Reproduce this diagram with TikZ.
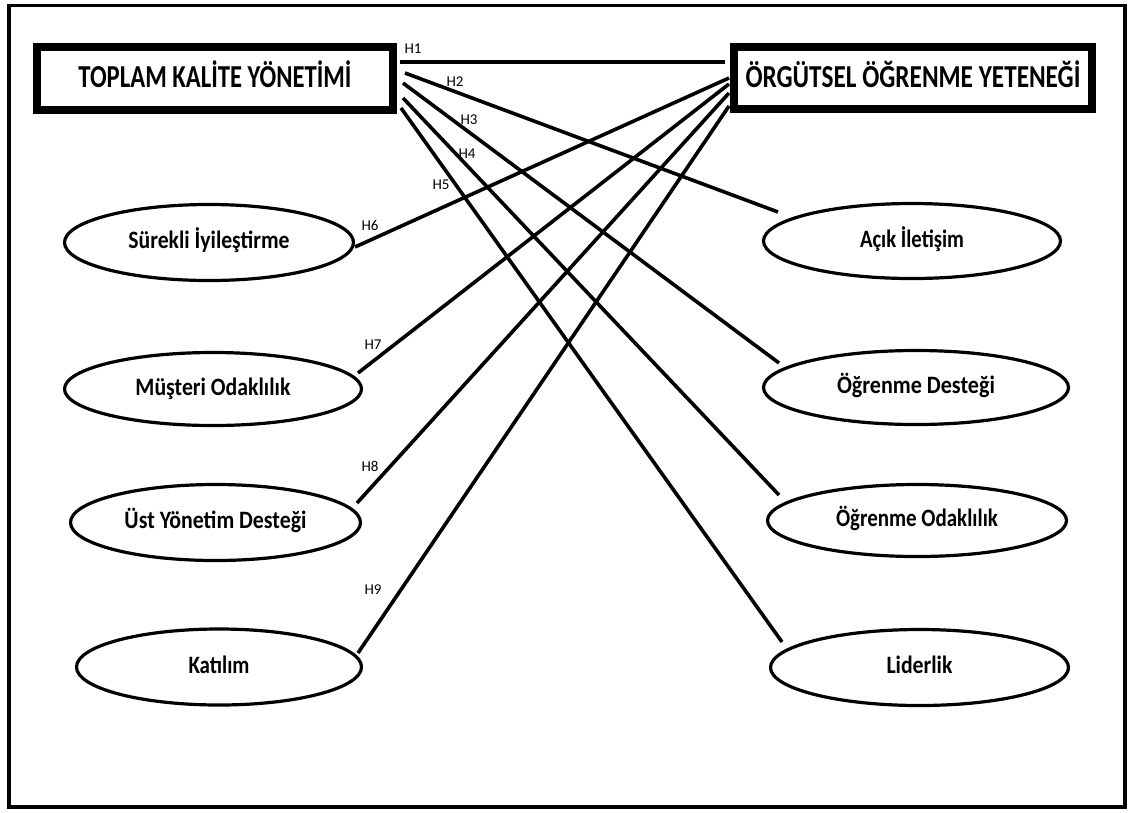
\documentclass[tikz,border=0pt]{standalone}
\usepackage{fontspec}
\setmainfont{Carlito}
\usetikzlibrary{shapes.geometric}
\newcommand{\fitw}[2]{\resizebox{#1pt}{\height}{#2}}
\begin{document}
\begin{tikzpicture}[x=1pt,y=-1pt,
  bigbox/.style={draw, line width=8pt, rectangle, inner sep=0pt,
    font=\fontsize{32}{32}\selectfont\bfseries, text height=21pt, text depth=3pt},
  oval/.style={draw, ellipse, line width=3.2pt, inner sep=0pt,
    font=\fontsize{25}{25}\selectfont\bfseries, text height=16pt, text depth=4pt},
  link/.style={line width=3.6pt},
  hlab/.style={font=\fontsize{15}{15}\selectfont, inner sep=0pt}]
\useasboundingbox (0,0) rectangle (1132,812);
\fill[white] (0,0) rectangle (1132,812);
\draw[line width=3.5pt] (9,5.5) rectangle (1125,807);

% main boxes
\node[bigbox, minimum width=356pt, minimum height=63pt] (tky) at (215,78.5) {\fitw{273}{TOPLAM KALİTE YÖNETİMİ}};
\node[bigbox, minimum width=358pt, minimum height=62pt] (ooy) at (913,78) {\fitw{335}{ÖRGÜTSEL ÖĞRENME YETENEĞİ}};

% left ellipses
\node[oval, minimum width=289pt, minimum height=76pt] (sur) at (209,242.5) {\fitw{161}{Sürekli İyileştirme}};
\node[oval, minimum width=297pt, minimum height=73pt] (mus) at (213,389) {\fitw{155}{Müşteri Odaklılık}};
\node[oval, minimum width=290pt, minimum height=76pt] (ust) at (215.5,522.5) {\fitw{182}{Üst Yönetim Desteği}};
\node[oval, minimum width=285pt, minimum height=76pt] (kat) at (219,667) {\fitw{61}{Katılım}};

% right ellipses
\node[oval, minimum width=297pt, minimum height=75pt] (acik) at (912,241) {\fitw{104}{Açık İletişim}};
\node[oval, minimum width=305pt, minimum height=74pt] (ogd) at (916,387.5) {\fitw{158}{Öğrenme Desteği}};
\node[oval, minimum width=299pt, minimum height=72pt] (ogo) at (917,520.5) {\fitw{162}{Öğrenme Odaklılık}};
\node[oval, minimum width=298pt, minimum height=76pt] (lid) at (919.5,667.5) {\fitw{66}{Liderlik}};

% connector ends
\coordinate (h1s) at (400,62);  \coordinate (h1e) at (725,62);
\coordinate (h2s) at (405,73);  \coordinate (h2e) at (778,212);
\coordinate (h3s) at (403,83);  \coordinate (h3e) at (779,363);
\coordinate (h4s) at (403,98);  \coordinate (h4e) at (779,495);
\coordinate (h5s) at (401,108); \coordinate (h5e) at (782,642);
\coordinate (h6s) at (355,247); \coordinate (h6e) at (729,78);
\coordinate (h7s) at (358,373); \coordinate (h7e) at (729,84);
\coordinate (h8s) at (357,503); \coordinate (h8e) at (729,93);
\coordinate (h9s) at (358,653); \coordinate (h9e) at (729,106);

\draw[link] (h1s) -- (h1e);
\draw[link] (h2s) -- (h2e);
\draw[link] (h3s) -- (h3e);
\draw[link] (h4s) -- (h4e);
\draw[link] (h5s) -- (h5e);
\draw[link] (h6s) -- (h6e);
\draw[link] (h7s) -- (h7e);
\draw[link] (h8s) -- (h8e);
\draw[link] (h9s) -- (h9e);

% labels
\node[hlab] (l1) at (413,49) {H1};
\node[hlab] (l2) at (455,82) {H2};
\node[hlab] (l3) at (469,120) {H3};
\node[hlab] (l4) at (467,154) {H4};
\node[hlab] (l5) at (441,185) {H5};
\node[hlab] (l6) at (370,225) {H6};
\node[hlab] (l7) at (373,345) {H7};
\node[hlab] (l8) at (370,466) {H8};
\node[hlab] (l9) at (373,590) {H9};
\end{tikzpicture}
\end{document}
